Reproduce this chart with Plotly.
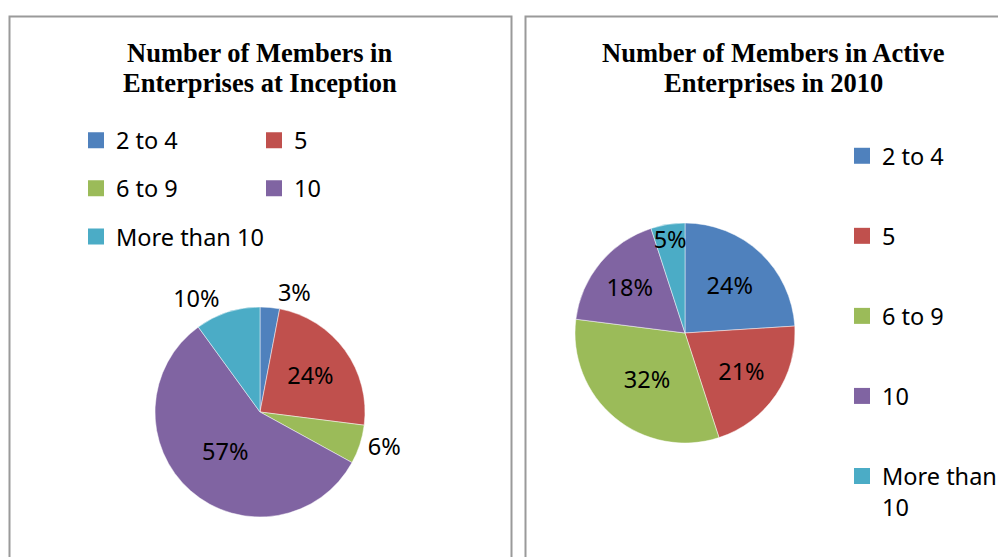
import plotly.graph_objects as go

categories = ["2 to 4", "5", "6 to 9", "10", "More than 10"]
inception_pct = [3, 24, 6, 57, 10]
active2010_pct = [24, 21, 32, 18, 5]
colors = ["#4F81BD", "#C0504D", "#9BBB59", "#8064A2", "#4BACC6"]

title_left = ["Number of Members in", "Enterprises at Inception"]
title_right = ["Number of Members in Active", "Enterprises in 2010"]
right_legend_labels = ["2 to 4", "5", "6 to 9", "10", "More than<br>10"]

W, H = 1006, 557
OFF = 8  # page body margin offset
FONT = "Noto Sans"
FS = 23.5


def px(x):
    return (x - OFF) / W


def py(y):
    return 1 - (y - OFF) / H


fig = go.Figure()

fig.add_trace(go.Pie(
    labels=categories, values=inception_pct, sort=False, direction="clockwise",
    rotation=0, textinfo="percent",
    textposition=["outside", "inside", "outside", "inside", "outside"],
    insidetextorientation="horizontal",
    textfont=dict(family=FONT, size=FS, color="black"),
    marker=dict(colors=colors, line=dict(color="rgba(255,255,255,0.6)", width=0.8)),
    domain=dict(x=[px(155), px(365)], y=[py(517), py(307)]),
    showlegend=False, hoverinfo="label+percent",
))

fig.add_trace(go.Pie(
    labels=categories, values=active2010_pct, sort=False, direction="clockwise",
    rotation=0, textinfo="percent", textposition="inside",
    insidetextorientation="horizontal",
    textfont=dict(family=FONT, size=FS, color="black"),
    marker=dict(colors=colors, line=dict(color="rgba(255,255,255,0.6)", width=0.8)),
    domain=dict(x=[px(575), px(795)], y=[py(443), py(223)]),
    showlegend=False, hoverinfo="label+percent",
))

# legend entries (left: two columns, right: one column)
left_cols = {0: "legend", 2: "legend", 4: "legend", 1: "legend2", 3: "legend2"}
for i, (cat, col) in enumerate(zip(categories, colors)):
    fig.add_trace(go.Scatter(
        x=[None], y=[None], mode="markers", name=cat,
        marker=dict(symbol="square", size=16, color=col),
        legend=left_cols[i], legendgroup="L%d" % i, showlegend=True,
    ))
for i, (cat, col) in enumerate(zip(right_legend_labels, colors)):
    fig.add_trace(go.Scatter(
        x=[None], y=[None], mode="markers", name=cat,
        marker=dict(symbol="square", size=16, color=col),
        legend="legend3", legendgroup="R%d" % i, showlegend=True,
    ))

legend_common = dict(
    font=dict(family=FONT, size=FS, color="black"),
    bgcolor="rgba(0,0,0,0)", borderwidth=0, orientation="v",
    xanchor="left", yanchor="top", itemclick=False, itemdoubleclick=False,
)

annotations = []
for txt, y in zip(title_left, [53, 83]):
    annotations.append(dict(text="<b>%s</b>" % txt, x=px(260), y=py(y), xref="paper", yref="paper",
                            showarrow=False, xanchor="center", yanchor="middle",
                            font=dict(family="Liberation Serif", size=26.5, color="black")))
for txt, y in zip(title_right, [53, 83]):
    annotations.append(dict(text="<b>%s</b>" % txt, x=px(773), y=py(y), xref="paper", yref="paper",
                            showarrow=False, xanchor="center", yanchor="middle",
                            font=dict(family="Liberation Serif", size=26.5, color="black")))

border = dict(color="#9a9a9a", width=2)
shapes = [
    dict(type="rect", xref="paper", yref="paper", x0=px(9.5), x1=px(511.5), y0=py(620), y1=py(16.5), line=border),
    dict(type="rect", xref="paper", yref="paper", x0=px(525.5), x1=px(1060), y0=py(620), y1=py(16.5), line=border),
]

fig.update_layout(
    width=W, height=H, margin=dict(l=0, r=0, t=0, b=0),
    paper_bgcolor="white", plot_bgcolor="white",
    xaxis=dict(visible=False), yaxis=dict(visible=False),
    annotations=annotations, shapes=shapes,
    uniformtext=dict(minsize=FS, mode="show"),
    legend=dict(**legend_common, x=px(76), y=py(118.5), tracegroupgap=14.5),
    legend2=dict(**legend_common, x=px(254), y=py(118.5), tracegroupgap=14.5),
    legend3=dict(**legend_common, x=px(842), y=py(134), tracegroupgap=46.5, valign="top"),
)

fig.write_html("out.html")
